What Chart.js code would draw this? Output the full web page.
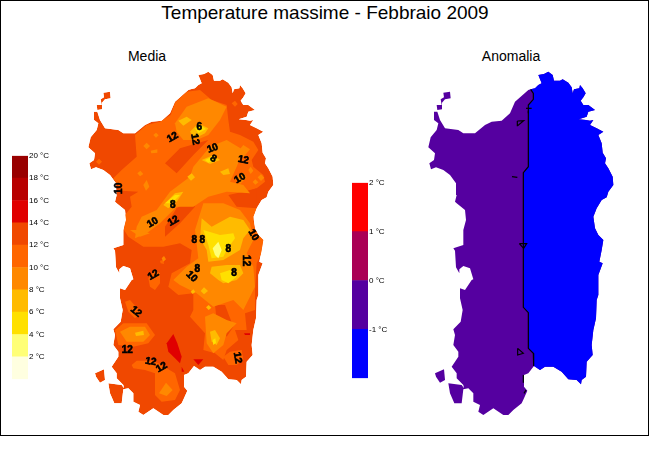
<!DOCTYPE html>
<html>
<head>
<meta charset="utf-8">
<title>Temperature massime - Febbraio 2009</title>
<script src="https://cdn.jsdelivr.net/npm/chart.js@4"></script>
<style>
  body { margin: 0; background: #fff; font-family: "Liberation Sans", Arial, sans-serif; }
  #frame { position: absolute; left: 0; top: 0; width: 649px; height: 436px; box-sizing: border-box; border: 1px solid #000; }
  .txt { position: absolute; color: #000; white-space: nowrap; transform: translateX(-50%); }
  #title { left: 325px; top: 2px; font-size: 19px; line-height: 22px; }
  #sub1 { left: 147px; top: 48px; font-size: 14px; line-height: 16px; }
  #sub2 { left: 511px; top: 48px; font-size: 14px; line-height: 16px; }
  canvas { position: absolute; }
</style>
</head>
<body>
<div id="frame"></div>
<div class="txt" id="title">Temperature massime - Febbraio 2009</div>
<div class="txt" id="sub1">Media</div>
<div class="txt" id="sub2">Anomalia</div>
<canvas id="barMedia" width="50" height="235" style="left:12px;top:150px"></canvas>
<canvas id="mapMedia" width="200" height="360" style="left:80px;top:60px"></canvas>
<canvas id="barAnom" width="50" height="207" style="left:352px;top:177px"></canvas>
<canvas id="mapAnom" width="200" height="360" style="left:420px;top:60px"></canvas>
<script>
// colour scales
const mediaEdges = [0, 2, 4, 6, 8, 10, 12, 14, 16, 18, 20];
const mediaColors = ['#FFFFE0', '#FFFF77', '#FFE000', '#FFBB00', '#FF8800', '#FF6600', '#F04800', '#E00000', '#B80000', '#990000'];
const anomEdges = [-2, -1, 0, 1, 2];
const anomColors = ['#0000FF', '#5500A0', '#AA0055', '#FF0000'];

// coast, map grid units (east side first, from the top of the anomaly line)
const coast = [[332,88],[345,85],[355,75],[365,70],[355,45],[372,42],[385,35],[398,45],[402,62],[420,62],[428,58],[445,68],[455,82],[458,100],[462,88],[478,85],[480,75],[488,85],[497,100],[490,112],[482,122],[490,135],[505,135],[525,150],[505,155],[500,170],[476,178],[498,180],[510,182],[520,180],[510,195],[530,205],[550,215],[535,225],[545,250],[548,278],[558,295],[555,310],[565,325],[578,350],[580,375],[565,395],[560,412],[545,420],[530,445],[520,470],[525,505],[535,525],[550,540],[545,570],[538,605],[548,610],[535,645],[535,705],[530,720],[528,775],[520,810],[515,855],[518,885],[500,905],[498,950],[485,960],[483,973],[470,960],[445,958],[425,935],[400,920],[375,920],[360,930],[342,918],[325,940],[312,945],[312,980],[322,992],[312,1015],[305,1030],[280,1050],[265,1065],[250,1065],[220,1045],[190,1065],[175,1055],[180,1035],[160,1025],[160,1000],[145,985],[130,988],[125,1030],[103,1030],[90,1000],[85,970],[125,975],[132,985],[130,975],[110,955],[110,940],[95,920],[115,890],[115,875],[100,855],[105,825],[100,808],[122,785],[128,750],[120,715],[120,685],[135,690],[155,660],[160,658],[150,625],[130,618],[118,628],[118,640],[108,622],[105,572],[100,565],[130,555],[130,510],[138,480],[135,450],[110,430],[105,425],[110,405],[108,370],[90,345],[70,330],[48,322],[33,328],[28,310],[42,300],[45,280],[25,262],[32,232],[50,210],[55,190],[42,180],[42,155],[52,155],[60,180],[75,205],[115,210],[130,220],[165,220],[195,195],[215,185],[245,182],[270,160],[285,125],[325,90]];
const asinara = [[50,135],[65,135],[62,118],[72,112],[70,98],[90,95],[92,115],[75,118],[66,128],[66,148],[52,150]];
const sanPietro = [[45,940],[72,928],[75,960],[60,968],[48,950]];
const eastCoastEnd = 68; // index of the coast point where the anomaly line ends

// anomaly 0 degree line, north to south
const zeroLine = [[332,88],[340,100],[340,118],[325,135],[325,320],[310,338],[310,742],[325,758],[325,865],[340,880],[340,915],[342,918]];
const zeroBits = [
  [[292,183],[311,182],[293,197],[292,183]],
  [[318,145],[335,145]],
  [[325,152],[325,160]],
  [[276,350],[292,352]],
  [[298,551],[320,551],[311,565],[298,551]],
  [[293,865],[310,880],[293,885],[293,865]],
  [[310,945],[310,968]],
  [[312,1000],[318,990]]
];

// media field, one list per colour band
const band10 = [
  [[272,165],[285,128],[320,95],[360,90],[395,120],[440,135],[445,180],[450,215],[480,225],[520,245],[535,270],[515,300],[520,320],[550,345],[555,365],[530,385],[500,395],[530,440],[520,480],[525,510],[552,530],[550,570],[530,610],[525,690],[525,750],[495,760],[500,810],[465,810],[475,840],[440,870],[430,900],[405,880],[370,870],[375,820],[330,770],[340,750],[340,700],[295,705],[265,680],[275,640],[330,610],[335,570],[300,550],[250,560],[190,560],[145,530],[132,510],[135,465],[155,440],[150,410],[175,395],[125,392],[100,355],[125,330],[170,290],[165,225],[200,195],[240,185]],
  [[205,655],[225,630],[240,640],[240,670],[225,690],[210,680]],
  [[135,725],[150,720],[185,760],[165,775],[145,755]],
  [[105,810],[130,790],[200,790],[225,825],[205,850],[160,860],[115,855]],
  [[155,915],[170,902],[215,902],[235,910],[260,925],[285,940],[300,990],[285,1020],[245,1025],[225,1005],[225,940],[195,930],[160,925]],
  [[430,890],[450,875],[485,870],[490,900],[470,915],[445,915]],
  [[48,305],[57,296],[66,305],[57,314]],
  [[455,130],[465,122],[473,132],[465,140]],
  [[240,602],[250,600],[252,612],[242,610]]
];
const band12 = [
  [[255,310],[300,265],[385,240],[340,285],[290,340]],
  [[255,500],[290,445],[330,420],[345,440],[300,490],[255,530]],
  [[445,405],[490,395],[530,385],[530,445],[470,440]],
  [[405,735],[435,735],[460,800],[440,830],[410,780]]
];
const band8 = [
  [[285,190],[320,140],[385,115],[440,140],[420,180],[385,225],[350,240],[310,240],[290,215]],
  [[170,500],[185,470],[230,450],[270,395],[330,350],[340,320],[390,260],[440,240],[490,270],[470,320],[450,365],[490,375],[510,400],[440,395],[385,410],[340,440],[290,440],[240,490],[200,520],[165,535]],
  [[345,510],[370,430],[430,430],[480,450],[510,490],[520,540],[500,580],[520,620],[525,680],[490,750],[460,720],[400,740],[350,700],[300,675],[280,660],[320,620],[355,595]],
  [[375,770],[400,760],[440,780],[470,790],[440,820],[430,855],[400,880],[380,850]],
  [[120,815],[150,800],[195,800],[210,825],[190,845],[140,845]],
  [[237,1000],[258,968],[278,990],[260,1008]],
  [[150,510],[175,510],[210,520],[180,530]],
  [[190,375],[200,360],[208,380],[198,392]],
  [[190,258],[200,248],[210,258],[200,268]],
  [[220,225],[228,218],[236,226],[228,233]],
  [[212,272],[232,268],[232,278],[214,280]],
  [[172,340],[181,332],[190,342],[180,349]],
  [[505,330],[512,320],[520,332],[512,342]],
  [[533,352],[543,343],[553,353],[543,363]],
  [[518,366],[526,358],[535,367],[526,374]],
  [[465,355],[490,338],[500,352],[480,372]],
  [[470,280],[490,255],[510,268],[490,292]],
  [[245,595],[252,588],[258,598],[250,605]]
];
const band6 = [
  [[330,215],[355,190],[385,205],[375,220],[345,235]],
  [[250,435],[285,400],[310,395],[290,425],[265,445]],
  [[295,182],[320,170],[335,180],[310,197]],
  [[365,300],[400,285],[420,300],[390,312]],
  [[420,335],[445,325],[450,342],[430,345]],
  [[365,475],[395,500],[450,470],[490,480],[510,510],[490,535],[480,570],[430,600],[385,605],[380,570],[360,535]],
  [[395,620],[440,615],[480,615],[490,640],[470,660],[430,670],[415,660],[390,640]],
  [[390,815],[405,810],[420,835],[410,855],[395,845]],
  [[165,818],[190,812],[192,825],[168,828]],
  [[332,695],[340,688],[346,696],[338,702]],
  [[362,693],[372,682],[384,693],[372,703]],
  [[378,742],[386,735],[394,743],[386,750]],
  [[322,350],[335,340],[345,352],[333,362]]
];
const band4 = [
  [[370,510],[420,525],[460,520],[465,535],[440,570],[430,590],[395,595],[385,555]],
  [[420,640],[450,630],[470,650],[445,670],[425,660]],
  [[255,430],[285,405],[300,405],[275,430]],
  [[345,205],[360,195],[378,207],[355,220]],
  [[375,300],[395,290],[405,300],[385,308]],
  [[398,840],[406,835],[408,848],[400,855]]
];
const band2 = [
  [[398,565],[415,545],[425,570],[415,595],[405,585]]
];
const band14 = [
  [[260,850],[280,822],[292,850],[305,890],[300,910],[285,895],[265,875]],
  [[340,898],[370,898],[355,915]],
  [[305,920],[313,935],[305,935]],
  [[492,820],[510,820],[510,825],[495,825]]
];

// isotherm labels
const labelText = ['6','12','12','10','8','12','10','10','8','10','12','10','8','8','8','12','8','10','8','12','12','12','12','12','12'];
const labelPos = [[358,202],[278,232],[345,238],[398,265],[400,296],[490,300],[480,355],[118,385],[278,437],[218,488],[280,483],[520,525],[343,540],[367,540],[445,567],[497,602],[352,628],[335,650],[462,640],[220,645],[168,755],[142,872],[212,905],[245,922],[472,893]];
const labelAngle = [0,-30,80,-20,30,10,-30,-90,0,-30,-30,60,0,0,0,90,0,45,0,-30,40,0,10,-30,80];

function polyDataset(poly, color) {
  return {
    data: poly.map(p => ({ x: p[0], y: p[1] })),
    showLine: true,
    fill: 'shape',
    backgroundColor: color,
    borderWidth: 0,
    pointRadius: 0,
    tension: 0
  };
}

function lineDataset(poly, width) {
  return {
    data: poly.map(p => ({ x: p[0], y: p[1] })),
    showLine: true,
    fill: false,
    borderColor: '#000',
    borderWidth: width,
    pointRadius: 0,
    tension: 0
  };
}

const coastClip = {
  id: 'coastClip',
  beforeDatasetsDraw(chart) {
    const { ctx, scales } = chart;
    ctx.save();
    ctx.beginPath();
    [coast, asinara, sanPietro].forEach(poly => {
      poly.forEach((p, i) => {
        const px = scales.x.getPixelForValue(p[0]);
        const py = scales.y.getPixelForValue(p[1]);
        if (i === 0) ctx.moveTo(px, py); else ctx.lineTo(px, py);
      });
      ctx.closePath();
    });
    ctx.clip();
  },
  afterDatasetsDraw(chart) {
    chart.ctx.restore();
  }
};

const isoLabels = {
  id: 'isoLabels',
  afterDraw(chart) {
    const { ctx, scales } = chart;
    ctx.save();
    ctx.fillStyle = '#000';
    ctx.strokeStyle = '#000';
    ctx.lineWidth = 0.6;
    ctx.font = 'bold 10px "Liberation Sans"';
    ctx.textAlign = 'center';
    ctx.textBaseline = 'middle';
    labelText.forEach((t, i) => {
      ctx.save();
      ctx.translate(scales.x.getPixelForValue(labelPos[i][0]), scales.y.getPixelForValue(labelPos[i][1]));
      ctx.rotate(labelAngle[i] * Math.PI / 180);
      ctx.fillText(t, 0, 0);
      ctx.strokeText(t, 0, 0);
      ctx.restore();
    });
    ctx.restore();
  }
};

function drawMap(id, datasets, plugins) {
  // first dataset ends up on top in Chart.js, so flip the painting order
  new Chart(document.getElementById(id), {
    type: 'scatter',
    data: { datasets: datasets.slice().reverse() },
    options: {
      responsive: false,
      animation: false,
      events: [],
      layout: { padding: 0 },
      plugins: { legend: { display: false }, tooltip: { enabled: false } },
      scales: {
        x: { type: 'linear', min: 0, max: 600, display: false },
        y: { type: 'linear', min: 0, max: 1080, reverse: true, display: false }
      }
    },
    plugins: plugins
  });
}

function drawBar(id, edges, colors, step, hideTick) {
  new Chart(document.getElementById(id), {
    type: 'bar',
    data: {
      labels: [''],
      datasets: colors.map((c, i) => ({
        data: [[edges[i], edges[i + 1]]],
        backgroundColor: c,
        borderWidth: 0,
        barPercentage: 1,
        categoryPercentage: 1,
        grouped: false
      }))
    },
    options: {
      responsive: false,
      animation: false,
      events: [],
      layout: { padding: { top: 5, bottom: 5 } },
      plugins: { legend: { display: false }, tooltip: { enabled: false } },
      scales: {
        x: { display: false },
        y: {
          position: 'right',
          min: edges[0],
          max: edges[edges.length - 1],
          grid: { display: false, drawTicks: false },
          border: { display: false },
          afterFit(scale) { scale.width = 34; },
          ticks: {
            stepSize: step,
            padding: 1,
            color: '#000',
            font: { family: '"Liberation Sans"', size: 8 },
            autoSkip: false,
            callback: v => (v === hideTick ? '' : v + ' °C')
          }
        }
      }
    }
  });
}

const mediaLayers = [polyDataset(coast, mediaColors[6]), polyDataset(asinara, mediaColors[6]), polyDataset(sanPietro, mediaColors[6])]
  .concat(band10.map(p => polyDataset(p, mediaColors[5])))
  .concat(band12.map(p => polyDataset(p, mediaColors[6])))
  .concat(band8.map(p => polyDataset(p, mediaColors[4])))
  .concat(band6.map(p => polyDataset(p, mediaColors[3])))
  .concat(band4.map(p => polyDataset(p, mediaColors[2])))
  .concat(band2.map(p => polyDataset(p, mediaColors[1])))
  .concat(band14.map(p => polyDataset(p, mediaColors[7])));

const eastPart = coast.slice(0, eastCoastEnd + 1).concat(zeroLine.slice().reverse());
const anomLayers = [polyDataset(coast, anomColors[1]), polyDataset(asinara, anomColors[1]), polyDataset(sanPietro, anomColors[1]), polyDataset(eastPart, anomColors[0]), lineDataset(zeroLine, 1.2)]
  .concat(zeroBits.map(p => lineDataset(p, 1.2)));

drawBar('barMedia', mediaEdges, mediaColors, 2, 0);
drawBar('barAnom', anomEdges, anomColors, 1, -2);
drawMap('mapMedia', mediaLayers, [coastClip, isoLabels]);
drawMap('mapAnom', anomLayers, []);
</script>
</body>
</html>
